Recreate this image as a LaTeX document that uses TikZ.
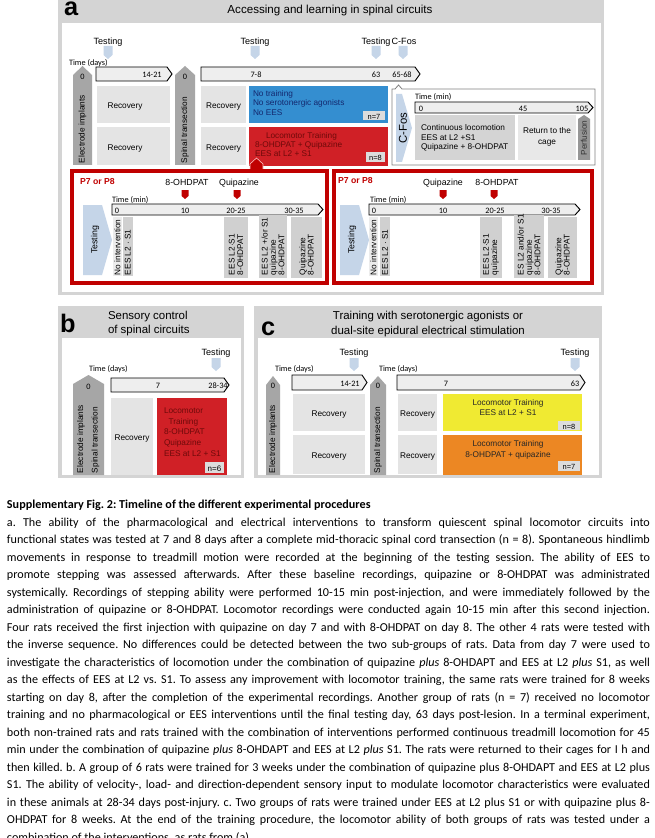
\documentclass[tikz,border=0pt]{standalone}
\usepackage{fontspec}
\setmainfont{Liberation Sans}
\newfontfamily\calfont{Carlito}
\definecolor{hdrgray}{RGB}{212,212,212}
\definecolor{recc}{RGB}{228,228,228}
\definecolor{garrc}{RGB}{166,166,166}
\definecolor{tlc}{RGB}{238,238,238}
\definecolor{tmkc}{RGB}{197,213,232}
\definecolor{bluebox}{RGB}{52,142,208}
\definecolor{bluetxt}{RGB}{20,40,110}
\definecolor{redbox}{RGB}{208,32,38}
\definecolor{redtxt}{RGB}{110,10,10}
\definecolor{rframe}{RGB}{192,0,0}
\definecolor{yelc}{RGB}{240,234,50}
\definecolor{orac}{RGB}{236,135,35}
\definecolor{contc}{RGB}{212,212,212}
\definecolor{retc}{RGB}{232,232,232}
\definecolor{perfc}{RGB}{150,150,150}
\definecolor{nboxc}{RGB}{220,220,220}
\definecolor{colg}{RGB}{208,208,208}
\definecolor{coll}{RGB}{236,236,236}
\newcommand{\fA}{\fontsize{6.2}{6.75}\selectfont}
\newcommand{\fT}{\fontsize{6.8}{8}\selectfont}
\newcommand{\fN}{\calfont\fontsize{6.2}{7}\selectfont}
\newcommand{\fC}{\fontsize{6.2}{6.3}\selectfont}
\newcommand{\fH}{\fontsize{8.6}{11}\selectfont}
\newcommand{\fL}{\fontsize{19}{20}\selectfont\bfseries}
\newcommand{\tlarrow}[4]{\draw[tlst] (#1,#3) -- ({#2-5},#3) -- (#2,{(#3+#4)/2}) -- ({#2-5},#4) -- (#1,#4) -- cycle;}
\newcommand{\uparr}[4]{\fill[garrc] (#1,#4) -- (#1,{#3+9}) -- ({(#1+#2)/2},#3) -- (#2,{#3+9}) -- (#2,#4) -- cycle;}
\newcommand{\tmark}[2]{\fill[tmkc] ({#1-4.5},#2) -- ({#1+4.5},#2) -- ({#1+4.5},{#2+9}) -- (#1,{#2+13}) -- ({#1-4.5},{#2+9}) -- cycle;}
\newcommand{\rmark}[2]{\fill[rframe] ({#1-3.5},#2) -- ({#1+3.5},#2) -- ({#1+3.5},{#2+6}) -- (#1,{#2+9}) -- ({#1-3.5},{#2+6}) -- cycle;}
\newcommand{\rchev}[4]{\fill[tmkc] (#1,#3) -- ({#2-10},#3) -- (#2,{(#3+#4)/2}) -- ({#2-10},#4) -- (#1,#4) -- cycle;}
\begin{document}
\begin{tikzpicture}[x=0.75pt,y=-0.75pt,
  every node/.style={inner sep=0pt,outer sep=0pt},
  tlst/.style={draw=black,line width=0.7pt,fill=tlc},
  tst/.style={font=\fT,anchor=mid},
  tim/.style={font=\fN,anchor=mid west},
  num/.style={font=\fN,anchor=mid},
  rec/.style={font=\fA,anchor=mid},
  colt/.style={font=\fC,rotate=90,anchor=west,align=left},
  vlab/.style={font=\fA,rotate=90,anchor=west},
  nlab/.style={font=\fontsize{5.6}{6}\selectfont,anchor=mid},
  hdr/.style={font=\fH,anchor=mid},
  plab/.style={font=\fontsize{6.5}{7}\selectfont\bfseries,text=rframe,anchor=mid west},
  drug/.style={font=\fontsize{6.6}{7}\selectfont,anchor=mid},
  lett/.style={font=\fL,anchor=base west,text height=0.52em,text depth=0pt}]
\useasboundingbox (0,0) rectangle (654,838);
% ================= panel a =================
\fill[hdrgray] (58,0) rectangle (604,295);
\fill[white] (62,23) rectangle (601,292);
\node[lett] (la) at (64,16) {a};
\node[font=\fontsize{8.7}{10}\selectfont,anchor=mid] (ta) at (330,9.5) {Accessing and learning in spinal circuits};
\node[tst] (tA1) at (108,41) {Testing};
\node[tst] (tA2) at (255,41) {Testing};
\node[tst] (tA3) at (376,41) {Testing};
\node[tst] (tA4) at (404,41) {C-Fos};
\tmark{108}{46}\tmark{255}{46}\tmark{376}{46}\tmark{403}{46}
\node[tim] (tdA) at (69,62) {Time (days)};
\uparr{73}{92}{66}{165}
\uparr{175}{195}{66}{165}
\node[num] (a0a) at (82.5,76) {0};
\node[num] (a0b) at (185,76) {0};
\node[vlab] (aei) at (82.5,163) {Electrode implants};
\node[vlab] (ast) at (185,163) {Spinal transection};
\tlarrow{96}{172}{67}{81}
\node[num] (a1421) at (152,74) {14-21};
\tlarrow{201}{420}{67}{81}
\node[num] (a78) at (256,74) {7-8};
\node[num] (a63) at (376,74) {63};
\node[num] (a6568) at (402,74) {65-68};
\fill[recc] (97,86) rectangle (170,123);
\fill[recc] (97,127) rectangle (170,165);
\fill[recc] (201,86) rectangle (246,123);
\fill[recc] (201,127) rectangle (246,165);
\node[rec] (ar1) at (125,105) {Recovery};
\node[rec] (ar2) at (125,147) {Recovery};
\node[rec] (ar3) at (223.5,105) {Recovery};
\node[rec] (ar4) at (223.5,147) {Recovery};
\fill[bluebox] (249,86) rectangle (388,123);
\node[font=\fA,text=bluetxt,anchor=mid west] (ab1) at (253,93) {No training};
\node[font=\fA,text=bluetxt,anchor=mid west] (ab2) at (253,102) {No serotonergic agonists};
\node[font=\fA,text=bluetxt,anchor=mid west] (ab3) at (253,111.5) {No EES};
\fill[nboxc] (363,111) rectangle (385,120.5);
\node[nlab] (an7) at (374,116) {n=7};
\fill[redbox] (249,127) rectangle (388,166);
\node[font=\fA,text=redtxt,anchor=mid west] (ard1) at (266,135) {Locomotor Training};
\node[font=\fA,text=redtxt,anchor=mid west] (ard2) at (255,144) {8-OHDPAT + Quipazine};
\node[font=\fA,text=redtxt,anchor=mid west] (ard3) at (255,153) {EES at L2 + S1};
\fill[nboxc] (366,152) rectangle (385,162);
\node[nlab] (an8) at (375.5,157) {n=8};
% C-Fos
\draw[draw=gray,line width=0.6pt,fill=white] (392,89) -- (395,89) -- (398.5,85) -- (402,89) -- (595,89) -- (595,165) -- (392,165) -- cycle;
\rchev{396}{412}{94}{162}
\node[font=\fontsize{8.5}{9}\selectfont,rotate=90,anchor=center] (acf) at (403,128) {C-Fos};
\node[tim] (atm) at (415,96) {Time (min)};
\tlarrow{415}{593}{102}{113}
\node[num] (am0) at (421,107.5) {0};
\node[num] (am45) at (523,107.5) {45};
\node[num] (am105) at (582,107.5) {105};
\fill[contc] (415,115) rectangle (515,160);
\node[rec,anchor=mid west] (ac1) at (421,127) {Continuous locomotion};
\node[rec,anchor=mid west] (ac2) at (421,136.5) {EES at L2 +S1};
\node[rec,anchor=mid west] (ac3) at (421,146) {Quipazine + 8-OHDPAT};
\fill[retc] (518,115) rectangle (576,160);
\node[rec,align=center,anchor=center] (aret) at (547,137) {Return to the\\[1.2pt]cage};
\fill[perfc] (578,160) -- (578,119) -- (584,115) -- (590,119) -- (590,160) -- cycle;
\node[font=\fA,rotate=90,anchor=center,text=black!80] (aperf) at (584,138) {Perfusion};
% red connector
\fill[rframe,draw=red!20,line width=0.4pt] (250,172) -- (250,164) -- (256.5,158) -- (263,164) -- (263,172) -- cycle;
% red frames
\draw[rframe,line width=2.4pt,fill=white] (72,171) rectangle (327,283);
\draw[rframe,line width=2.4pt,fill=white] (334,171) rectangle (592,283);
\fill[rframe] (251.2,168) rectangle (261.8,173);
% left frame
\node[plab] (lp) at (80,181) {P7 or P8};
\node[drug] (ld1) at (187,182) {8-OHDPAT};
\node[drug] (ld2) at (239,182) {Quipazine};
\rmark{185}{190}\rmark{237}{190}
\node[tim] (ltm) at (112,198.5) {Time (min)};
\tlarrow{112}{323}{204}{215}
\node[num] (l0) at (117,209.5) {0};
\node[num] (l10) at (185,209.5) {10};
\node[num] (l2025) at (236,209.5) {20-25};
\node[num] (l3035) at (294,209.5) {30-35};
\rchev{83}{112}{205}{275}
\node[font=\fontsize{6.6}{7}\selectfont,rotate=90,anchor=center] (lts) at (95,240) {Testing};
\fill[coll] (113,217) rectangle (121.5,276);
\node[colt] (lc1) at (117.3,275) {No intervention};
\fill[colg] (123,217) rectangle (132.5,276);
\node[colt] (lc2) at (127.8,275) {EES L2 · S1};
\fill[colg] (224,217) rectangle (248,278);
\node[colt] (lc3) at (236,275) {EES L2·S1\\8-OHDPAT};
\fill[colg] (259,215) rectangle (287,278);
\node[colt] (lc4) at (273,275) {EES L2 +/or S1\\quipazine\\8-OHDPAT};
\fill[colg] (291,217) rectangle (322,278);
\node[colt] (lc5) at (306.5,275) {Quipazine\\8-OHDPAT};
% right frame
\node[plab] (rp) at (338,180) {P7 or P8};
\node[drug] (rd1) at (443,182) {Quipazine};
\node[drug] (rd2) at (497,182) {8-OHDPAT};
\rmark{443}{190}\rmark{494}{190}
\node[tim] (rtm) at (370,198.5) {Time (min)};
\tlarrow{369}{580}{204}{215}
\node[num] (r0) at (374,209.5) {0};
\node[num] (r10) at (443,209.5) {10};
\node[num] (r2025) at (495,209.5) {20-25};
\node[num] (r3035) at (551,209.5) {30-35};
\rchev{340}{369}{205}{275}
\node[font=\fontsize{6.6}{7}\selectfont,rotate=90,anchor=center] (rts) at (352,240) {Testing};
\fill[coll] (369,217) rectangle (377.5,276);
\node[colt] (rc1) at (373.3,275) {No intervention};
\fill[colg] (380,217) rectangle (390,276);
\node[colt] (rc2) at (385,275) {EES L2 · S1};
\fill[colg] (480,217) rectangle (502,278);
\node[colt] (rc3) at (491,275) {EES L2·S1\\quipazine};
\fill[colg] (514,215) rectangle (544,278);
\node[colt] (rc4) at (529,275) {ES L2 and/or S1\\quipazine\\8-OHDPAT};
\fill[colg] (548,217) rectangle (577,278);
\node[colt] (rc5) at (562.5,275) {Quipazine\\8-OHDPAT};
% ================= panel b =================
\fill[hdrgray] (58,306) rectangle (244,478);
\fill[white] (62,338) rectangle (241,475);
\node[lett] (lb) at (60,332) {b};
\node[hdr,anchor=mid west] (tb1) at (108,316) {Sensory control};
\node[hdr,anchor=mid west] (tb2) at (108,330) {of spinal circuits};
\node[tst] (tB1) at (216,352) {Testing};
\tmark{216}{358}
\node[tim] (tdB) at (89,368) {Time (days)};
\uparr{73}{104}{375}{475}
\node[num] (b0) at (88.5,386) {0};
\node[vlab] (bei) at (81,473) {Electrode implants};
\node[vlab] (bst) at (95.5,473) {Spinal transection};
\tlarrow{111}{229}{378}{392}
\node[num] (b7) at (158,385) {7};
\node[num] (b2834) at (218,385) {28-34};
\fill[recc] (111,398) rectangle (153,475);
\node[rec] (br) at (132,437) {Recovery};
\fill[redbox] (157,398) rectangle (227,475);
\node[font=\fA,text=redtxt,anchor=west,align=left] (brt) at (164,432) {Locomotor\\[1.3pt]\ \ Training\\[1.3pt]8-OHDPAT\\[1.3pt]Quipazine\\[1.3pt]EES at L2 + S1};
\fill[nboxc] (205,462) rectangle (224,473);
\node[nlab,font=\fontsize{6}{6.5}\selectfont] (bn6) at (214.5,467.5) {n=6};
% ================= panel c =================
\fill[hdrgray] (254,306) rectangle (602,478);
\fill[white] (258,338) rectangle (599,475);
\node[lett] (lc) at (261,335) {c};
\node[hdr] (tc1) at (428,315.5) {Training with serotonergic agonists or};
\node[hdr] (tc2) at (428,330.5) {dual-site epidural electrical stimulation};
\node[tst] (tC1) at (354,352) {Testing};
\node[tst] (tC2) at (575,352) {Testing};
\tmark{354}{358}\tmark{575}{358}
\node[tim] (tdC1) at (275,368) {Time (days)};
\node[tim] (tdC2) at (379,368) {Time (days)};
\uparr{266}{280}{376}{475}
\uparr{370}{386}{376}{475}
\node[num] (c0a) at (273,385) {0};
\node[num] (c0b) at (378,385) {0};
\node[vlab] (cei) at (273,473) {Electrode implants};
\node[vlab] (cst) at (378,473) {Spinal transection};
\tlarrow{292}{367}{375}{390}
\node[num] (c1421) at (350,382.5) {14-21};
\tlarrow{397}{585}{375}{390}
\node[num] (c7) at (446,382.5) {7};
\node[num] (c63) at (575,382.5) {63};
\fill[recc] (293,394) rectangle (365,431);
\fill[recc] (293,435) rectangle (365,474);
\fill[recc] (398,394) rectangle (437,431);
\fill[recc] (398,435) rectangle (437,474);
\node[rec] (cr1) at (329,413) {Recovery};
\node[rec] (cr2) at (329,455) {Recovery};
\node[rec] (cr3) at (417.5,413) {Recovery};
\node[rec] (cr4) at (417.5,455) {Recovery};
\fill[yelc] (443,394) rectangle (582,431);
\node[rec,align=center,anchor=center,text=black!85] (cy) at (508,407.5) {Locomotor Training\\[1.3pt]EES at L2 + S1};
\fill[nboxc] (558,421) rectangle (580,430);
\node[nlab] (cn8) at (569,425.5) {n=8};
\fill[orac] (443,435) rectangle (582,475);
\node[rec,align=center,anchor=center,text=black!85] (co) at (508,449.5) {Locomotor Training\\[1.3pt]8-OHDPAT + quipazine};
\fill[nboxc] (558,461) rectangle (580,471);
\node[nlab] (cn7) at (569,466) {n=7};
% ================= caption =================
\node[anchor=base west,font=\calfont\bfseries\fontsize{9.1}{13}\selectfont] (cap) at (7,508.5) {\frenchspacing Supplementary Fig. 2: Timeline of the different experimental procedures};
\node[anchor=base west] (body) at (7,526) {\parbox[t]{482.25pt}{\calfont\fontsize{9.1}{13.125}\selectfont\frenchspacing
a. The ability of the pharmacological and electrical interventions to transform quiescent spinal locomotor circuits into\linebreak
functional states was tested at 7 and 8 days after a complete mid-thoracic spinal cord transection (n = 8). Spontaneous hindlimb\linebreak
movements in response to treadmill motion were recorded at the beginning of the testing session. The ability of EES to\linebreak
promote stepping was assessed afterwards. After these baseline recordings, quipazine or 8-OHDPAT was administrated\linebreak
systemically. Recordings of stepping ability were performed 10-15 min post-injection, and were immediately followed by the\linebreak
administration of quipazine or 8-OHDPAT. Locomotor recordings were conducted again 10-15 min after this second injection.\linebreak
Four rats received the first injection with quipazine on day 7 and with 8-OHDPAT on day 8. The other 4 rats were tested with\linebreak
the inverse sequence. No differences could be detected between the two sub-groups of rats. Data from day 7 were used to\linebreak
investigate the characteristics of locomotion under the combination of quipazine \emph{plus} 8-OHDAPT and EES at L2 \emph{plus} S1, as well\linebreak
as the effects of EES at L2 vs. S1. To assess any improvement with locomotor training, the same rats were trained for 8 weeks\linebreak
starting on day 8, after the completion of the experimental recordings. Another group of rats (n = 7) received no locomotor\linebreak
training and no pharmacological or EES interventions until the final testing day, 63 days post-lesion. In a terminal experiment,\linebreak
both non-trained rats and rats trained with the combination of interventions performed continuous treadmill locomotion for 45\linebreak
min under the combination of quipazine \emph{plus} 8-OHDAPT and EES at L2 \emph{plus} S1. The rats were returned to their cages for I h and\linebreak
then killed. b. A group of 6 rats were trained for 3 weeks under the combination of quipazine plus 8-OHDAPT and EES at L2 plus\linebreak
S1. The ability of velocity-, load- and direction-dependent sensory input to modulate locomotor characteristics were evaluated\linebreak
in these animals at 28-34 days post-injury. c. Two groups of rats were trained under EES at L2 plus S1 or with quipazine plus 8-\linebreak
OHDPAT for 8 weeks. At the end of the training procedure, the locomotor ability of both groups of rats was tested under a\linebreak
combination of the interventions, as rats from (a).}};
\end{tikzpicture}
\end{document}
